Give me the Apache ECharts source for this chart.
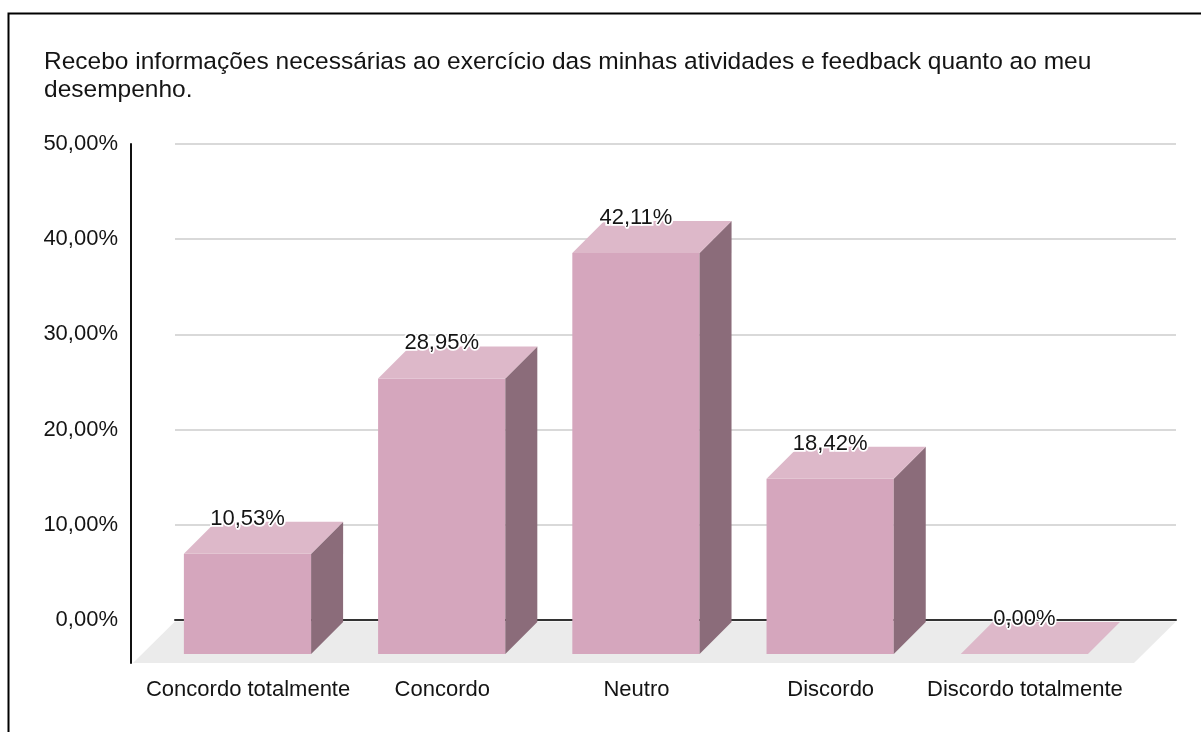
<!DOCTYPE html>
<html>
<head>
<meta charset="utf-8">
<script src="https://cdn.jsdelivr.net/npm/echarts@6/dist/echarts.min.js"></script>
<style>
  html, body { margin: 0; padding: 0; background: #fff; }
  #chart { width: 1201px; height: 732px; }
</style>
</head>
<body>
<div id="chart"></div>
<script>
// ---- data ----
const titleText = 'Recebo informações necessárias ao exercício das minhas atividades e feedback quanto ao meu\ndesempenho.';
const categories = ['Concordo totalmente', 'Concordo', 'Neutro', 'Discordo', 'Discordo totalmente'];
const values = [10.53, 28.95, 42.11, 18.42, 0.00];
const tickLabels = ['0,00%', '10,00%', '20,00%', '30,00%', '40,00%', '50,00%'];

// ---- style constants ----
const FONT = '"Liberation Sans", Arial, sans-serif';
const DX = -32, DY = 32;       // 3D depth offset (front face relative to back)
const BAR_FRAC = 0.655;        // bar width as a fraction of category step
const FLOOR = 42;              // floor depth
const COL_FRONT = '#d5a6bd', COL_TOP = '#ddb8c9', COL_SIDE = '#8b6c7a';
const TXT = '#141414';

function fmt(v) { return v.toFixed(2).replace('.', ',') + '%'; }

const chart = echarts.init(document.getElementById('chart'), null, { renderer: 'canvas' });

const option = {
  animation: false,
  backgroundColor: '#fff',
  textStyle: { fontFamily: FONT },
  graphic: [
    {
      type: 'rect', left: 6, top: 11, z: 100, silent: true,
      shape: { x: 0, y: 0, width: 1300, height: 900 },
      style: { fill: 'none', stroke: '#000', lineWidth: 2 }
    },
    {
      type: 'text', x: 44, y: 48.5, z: 100, silent: true,
      style: {
        text: titleText, font: '24.5px ' + FONT, fill: TXT,
        lineHeight: 27.5, verticalAlign: 'top', align: 'left'
      }
    }
  ],
  grid: [
    { left: 175, right: 25, top: 144, bottom: 112 },
    { left: 151, width: 971, top: 144, bottom: 69 }
  ],
  xAxis: [
    {
      type: 'value', gridIndex: 0, min: -0.538, max: 4.616,
      axisLine: { show: true, onZero: false, lineStyle: { color: '#333', width: 2 } },
      axisTick: { show: false }, axisLabel: { show: false }, splitLine: { show: false }
    },
    {
      type: 'category', gridIndex: 1, data: categories,
      axisLine: { show: false }, axisTick: { show: false }, splitLine: { show: false },
      axisLabel: { margin: 16, fontFamily: FONT, fontSize: 22, color: TXT, interval: 0 }
    }
  ],
  yAxis: [
    {
      type: 'value', gridIndex: 0, min: 0, max: 50, interval: 10,
      axisLine: { show: false }, axisTick: { show: false },
      splitLine: { show: true, lineStyle: { color: '#cccccc', width: 1.5 } },
      axisLabel: {
        margin: 57, fontFamily: FONT, fontSize: 22, color: TXT,
        formatter: function (v) { return tickLabels[Math.round(v / 10)]; }
      }
    },
    {
      type: 'value', gridIndex: 1, min: 0, max: 1, offset: 20,
      axisLine: { show: true, lineStyle: { color: '#111', width: 2 } },
      axisTick: { show: false }, axisLabel: { show: false }, splitLine: { show: false }
    }
  ],
  series: [
    {
      type: 'custom', xAxisIndex: 0, yAxisIndex: 0, z: 1, silent: true,
      data: [[0, 0]],
      renderItem: function (params, api) {
        const cs = params.coordSys;
        const yb = cs.y + cs.height + 1.5;
        return {
          type: 'polygon',
          shape: { points: [
            [cs.x, yb], [cs.x + cs.width, yb],
            [cs.x + cs.width - FLOOR, cs.y + cs.height + FLOOR + 1],
            [cs.x - FLOOR, cs.y + cs.height + FLOOR + 1]
          ] },
          style: { fill: '#ebebeb' }
        };
      }
    },
    {
      type: 'custom', xAxisIndex: 0, yAxisIndex: 0, z: 3, silent: true,
      data: values.map(function (v, i) { return [i, v]; }),
      renderItem: function (params, api) {
        const i = api.value(0), v = api.value(1);
        const t = api.coord([i, v]);
        const b = api.coord([i, 0]);
        const half = api.size([BAR_FRAC, 0])[0] / 2;
        const bx = t[0], bt = t[1] + 2, bb = b[1] + 2;
        const fx = bx + DX, ft = bt + DY, fb = bb + DY;
        const children = [];
        if (fb - ft > 0.5) {
          children.push({ type: 'rect', shape: { x: fx - half, y: ft, width: 2 * half, height: fb - ft }, style: { fill: COL_FRONT } });
          children.push({ type: 'polygon', shape: { points: [[fx + half, ft], [bx + half, bt], [bx + half, bb], [fx + half, fb]] }, style: { fill: COL_SIDE } });
        }
        children.push({ type: 'polygon', shape: { points: [[fx - half, ft], [fx + half, ft], [bx + half, bt], [bx - half, bt]] }, style: { fill: COL_TOP } });
        children.push({
          type: 'text', z2: 10,
          style: {
            x: fx, y: bt - 3, text: fmt(v), align: 'center', verticalAlign: 'middle',
            font: '22px ' + FONT, fill: TXT, stroke: '#fff', lineWidth: 3.5
          }
        });
        return { type: 'group', children: children };
      }
    }
  ]
};
chart.setOption(option);
</script>
</body>
</html>
